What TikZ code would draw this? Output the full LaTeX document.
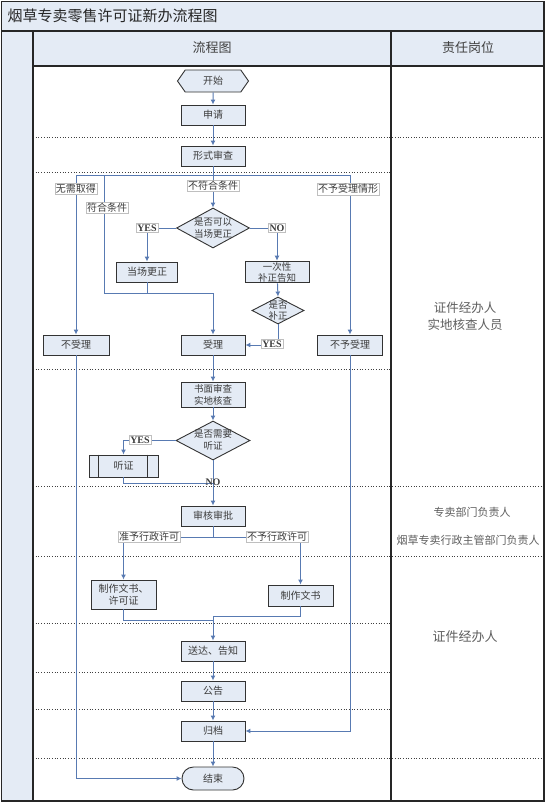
\documentclass[tikz,border=0pt]{standalone}
\usepackage{fontspec}
\setmainfont{Noto Sans CJK SC}
\newfontfamily\latf{Liberation Serif}
\usetikzlibrary{shapes.geometric,shapes.symbols,arrows.meta}
\definecolor{boxblue}{RGB}{228,235,245}
\definecolor{linkblue}{RGB}{88,122,178}
\definecolor{txt}{RGB}{60,60,60}
\definecolor{roletxt}{RGB}{95,95,95}
\newcommand\myfs[2]{\fontsize{#1}{#2}\selectfont}
\begin{document}
\begin{tikzpicture}[x=1pt,y=-1pt,
  box/.style={draw=black!80, fill=boxblue, line width=0.9pt, minimum width=64pt, minimum height=20pt, inner sep=1pt, font=\myfs{10}{12}, text=txt, align=center},
  dia/.style={diamond, draw=black!80, fill=boxblue, line width=0.9pt, inner sep=0pt},
  dtext/.style={align=center, font=\myfs{9.5}{12}, text=txt},
  link/.style={draw=linkblue, line width=1pt},
  conn/.style={link, -{Latex[length=5pt,width=5pt]}},
  lbl/.style={fill=white, draw=black!25, line width=0.3pt, inner sep=1pt, font=\myfs{10}{12}, text=txt},
  yn/.style={fill=white, draw=black!25, line width=0.3pt, inner sep=1pt, font=\latf\bfseries\myfs{10}{12}, text=txt},
  dots/.style={dotted, line width=0.7pt, black!75},
  role/.style={align=center, text=roletxt},
  frame/.style={draw=black!85, line width=1.2pt}
]
\useasboundingbox (0,0) rectangle (554,804);
\fill[white] (0,0) rectangle (554,804);
% header fills
\fill[boxblue] (1.5,1.5) rectangle (544,66);
\fill[boxblue] (1.5,31) rectangle (33,801);
% dotted separators
\foreach \yy in {137,486,556,758} \draw[dots] (33,\yy) -- (544,\yy);
\foreach \yy in {172,369,623,672,709} \draw[dots] (33,\yy) -- (391,\yy);
% frame
\draw[frame] (1.5,1.5) rectangle (544,801);
\draw[frame] (1.5,31) -- (544,31);
\draw[frame] (33,66) -- (544,66);
\draw[draw=black!85, line width=1.8pt] (33,31) -- (33,801);
\draw[frame] (391,31) -- (391,801);
% titles
\node[anchor=west, font=\myfs{15}{18}, text=black!85] (title) at (4,16) {烟草专卖零售许可证新办流程图};
\node[font=\myfs{13}{15}, text=black!75] (hflow) at (212,48) {流程图};
\node[font=\myfs{13}{15}, text=black!75] (hrole) at (468,48) {责任岗位};
% role texts
\node[role, font=\myfs{12.5}{17}] (r1) at (465,316) {证件经办人\\实地核查人员};
\node[role, font=\myfs{11}{13}] (r2) at (472,512) {专卖部门负责人};
\node[role, font=\myfs{11}{13}] (r3) at (468,540) {烟草专卖行政主管部门负责人};
\node[role, font=\myfs{13}{15}] (r4) at (465,637) {证件经办人};
% nodes
\node[signal, signal to=east and west, signal pointer angle=110, draw=black!80, fill=boxblue, line width=0.9pt, minimum width=71pt, minimum height=22pt, inner sep=1pt, font=\myfs{10}{12}, text=txt] (start) at (213,81) {开始};
\node[box] (apply) at (213,115) {申请};
\node[box] (formal) at (213,156) {形式审查};
\node[dia, minimum width=73pt, minimum height=40pt, label={[dtext]center:是否可以\\当场更正}] (d1) at (213,228) {};
\node[box, minimum width=61pt] (fix) at (147,272) {当场更正};
\node[box, font=\myfs{9.5}{11}] (notify) at (277,272) {一次性\\补正告知};
\node[dia, minimum width=52pt, minimum height=27pt, label={[dtext, font=\myfs{9.5}{11}]center:是否\\补正}] (d2) at (278,310.5) {};
\node[box, minimum width=66pt] (noacc) at (76,345) {不受理};
\node[box] (accept) at (213,345) {受理};
\node[box, minimum width=65pt] (refuse) at (350,345) {不予受理};
\node[box, minimum height=25pt, font=\myfs{9.5}{12}] (review) at (213,394.5) {书面审查\\实地核查};
\node[dia, minimum width=74pt, minimum height=39pt, label={[dtext]center:是否需要\\听证}] (d3) at (213,440.5) {};
\node[box, minimum width=69pt, minimum height=22pt] (hear) at (123.5,466) {听证};
\draw[draw=black!80, line width=0.9pt] ([xshift=10pt]hear.north west) -- ([xshift=10pt]hear.south west)
  ([xshift=-11pt]hear.north east) -- ([xshift=-11pt]hear.south east);
\node[box] (approve) at (213,516) {审核审批};
\node[box, minimum width=65pt, minimum height=29pt] (permit) at (123.5,594.5) {制作文书、\\许可证};
\node[box, minimum width=65pt, minimum height=21pt] (doc) at (300.5,595.5) {制作文书};
\node[box] (deliver) at (213,651) {送达、告知};
\node[box] (notice) at (213,691) {公告};
\node[box] (archive) at (213,731) {归档};
\node[box, minimum width=62pt, minimum height=23pt, rounded corners=11.5pt] (end) at (213,778.5) {结束};
% junction coordinates
\coordinate (split) at (213,175);
\coordinate (sL) at (76,175);
\coordinate (sM) at (104,175);
\coordinate (sR) at (350,175);
\coordinate (m1) at (213,293);
\coordinate (m2) at (213,483);
\coordinate (m3) at (213,537);
\coordinate (bL) at (123.5,537);
\coordinate (bR) at (300.5,537);
\coordinate (m4) at (213,620);
\coordinate (m5) at (213,616);
% connectors
\draw[conn] (start) -- (apply);
\draw[conn] (apply) -- (formal);
\draw[link] (formal) -- (split);
\draw[link] (sL) -- (sR);
\draw[conn] (sL) -- (noacc.north);
\draw[conn] (split) -- (d1.north);
\draw[conn] (sR) -- (refuse.north);
\draw[link] (sM) |- (m1);
\draw[link] (fix) |- (m1);
\draw[conn] (m1) -- (accept.north);
\draw[conn] (d1.west) -| (fix.north);
\draw[conn] (d1.east) -| (notify.north);
\draw[conn] (notify) -- (d2.north);
\draw[conn] (d2.south) |- (accept.east);
\draw[conn] (noacc.south) |- (end.west);
\draw[conn] (refuse.south) |- (archive.east);
\draw[conn] (accept) -- (review);
\draw[conn] (review) -- (d3.north);
\draw[conn] (d3.west) -| (hear.north);
\draw[link] (hear.south) |- (m2);
\draw[conn] (d3.south) -- (approve.north);
\draw[link] (approve) -- (m3);
\draw[link] (bL) -- (bR);
\draw[conn] (bL) -- (permit.north);
\draw[conn] (bR) -- (doc.north);
\draw[link] (permit.south) |- (m4);
\draw[link] (doc.south) |- (m5);
\draw[conn] (m5) -- (deliver.north);
\draw[conn] (deliver) -- (notice);
\draw[conn] (notice) -- (archive);
\draw[conn] (archive) -- (end);
% connector labels
\node[lbl] (l1) at (76,189) {无需取得};
\node[lbl] (l2) at (213,186) {不符合条件};
\node[lbl] (l3) at (348,189) {不予受理情形};
\node[lbl] (l4) at (107,208) {符合条件};
\node[yn] (l5) at (147,228) {YES};
\node[yn] (l6) at (277,228) {NO};
\node[yn] (l7) at (272,344) {YES};
\node[yn] (l8) at (140,440) {YES};
\node[yn, fill=none, draw=none] (l9) at (213,482) {NO};
\node[lbl] (l10) at (149,537) {准予行政许可};
\node[lbl] (l11) at (277,537) {不予行政许可};
\end{tikzpicture}
\end{document}
